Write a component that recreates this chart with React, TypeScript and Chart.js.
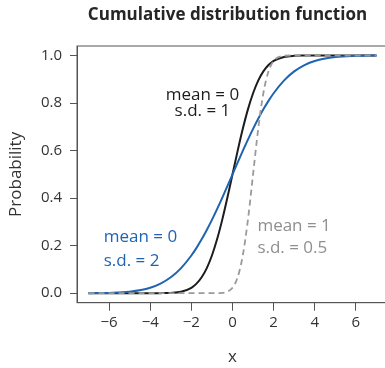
import { useEffect, useRef } from "react";
import { Chart, registerables } from "chart.js";

Chart.register(...registerables);

// x positions where the curves were read
const xs = [-7, -6, -5, -4, -3.5, -3, -2.5, -2, -1.75, -1.5, -1.25, -1, -0.75, -0.5, -0.25, 0, 0.25, 0.5, 0.75, 1, 1.25, 1.5, 1.75, 2, 2.5, 3, 3.5, 4, 5, 6, 7];

// mean = 0, s.d. = 1 (black)
const cdfMean0Sd1 = [0, 0, 0, 0, 0.0002, 0.0013, 0.0062, 0.0228, 0.0401, 0.0668, 0.1056, 0.1587, 0.2266, 0.3085, 0.4013, 0.5, 0.5987, 0.6915, 0.7734, 0.8413, 0.8944, 0.9332, 0.9599, 0.9772, 0.9938, 0.9987, 0.9998, 1, 1, 1, 1];

// mean = 0, s.d. = 2 (blue)
const cdfMean0Sd2 = [0.0002, 0.0013, 0.0062, 0.0228, 0.0401, 0.0668, 0.1056, 0.1587, 0.1908, 0.2266, 0.266, 0.3085, 0.3538, 0.4013, 0.4503, 0.5, 0.5497, 0.5987, 0.6462, 0.6915, 0.734, 0.7734, 0.8092, 0.8413, 0.8944, 0.9332, 0.9599, 0.9772, 0.9938, 0.9987, 0.9998];

// mean = 1, s.d. = 0.5 (grey dashed)
const cdfMean1Sd05 = [0, 0, 0, 0, 0, 0, 0, 0, 0, 0, 0, 0, 0.0002, 0.0013, 0.0062, 0.0228, 0.0668, 0.1587, 0.3085, 0.5, 0.6915, 0.8413, 0.9332, 0.9772, 0.9987, 1, 1, 1, 1, 1, 1];

const xTicks = [-6, -4, -2, 0, 2, 4, 6];
const xTickLabels = ["\u22126", "\u22124", "\u22122", "0", "2", "4", "6"];
const yTicks = [0, 0.2, 0.4, 0.6, 0.8, 1.0];
const yTickLabels = ["0.0", "0.2", "0.4", "0.6", "0.8", "1.0"];

const titleText = "Cumulative distribution function";
const xAxisTitle = "x";
const yAxisTitle = "Probability";

// curve annotations: one entry per text line, anchored in data units
const labelTexts = ["mean = 0", "s.d. = 1", "mean = 0", "s.d. = 2", "mean = 1", "s.d. = 0.5"];
const labelX = [-1.46, -1.46, -6.26, -6.26, 1.21, 1.21];
const labelY = [0.835, 0.764, 0.236, 0.133, 0.283, 0.188];
const labelAlign = ["center", "center", "left", "left", "left", "left"];
const labelColors = ["#1c1c1c", "#1c1c1c", "#1f63b3", "#1f63b3", "#8f8f8f", "#8f8f8f"];

const FONT = "'Open Sans', 'Noto Sans', sans-serif";
const AXIS = "#555555";

export default function App() {
  const ref = useRef<HTMLCanvasElement | null>(null);

  useEffect(() => {
    document.body.style.margin = "0";
    document.body.style.overflow = "hidden";
    const canvas = ref.current;
    if (!canvas) return;

    const toPts = (ys: number[]) => xs.map((x, i) => ({ x, y: ys[i] }));

    const decor = {
      id: "decor",
      afterDraw(chart: any) {
        const { ctx, chartArea } = chart;
        const xS = chart.scales.x;
        const yS = chart.scales.y;
        ctx.save();
        // box
        ctx.strokeStyle = AXIS;
        ctx.lineWidth = 1;
        ctx.strokeRect(chartArea.left, chartArea.top, chartArea.right - chartArea.left, chartArea.bottom - chartArea.top);
        // title
        ctx.fillStyle = "#262626";
        ctx.font = `bold 17px ${FONT}`;
        ctx.textAlign = "center";
        ctx.textBaseline = "middle";
        ctx.fillText(titleText, (chartArea.left + chartArea.right) / 2 - 5, 15);
        // annotations
        ctx.font = `17px ${FONT}`;
        labelTexts.forEach((t, i) => {
          ctx.fillStyle = labelColors[i];
          ctx.textAlign = labelAlign[i] as CanvasTextAlign;
          ctx.fillText(t, xS.getPixelForValue(labelX[i]), yS.getPixelForValue(labelY[i]));
        });
        ctx.restore();
      },
    };

    const chart = new Chart(canvas, {
      type: "line",
      data: {
        datasets: [
          {
            data: toPts(cdfMean0Sd1),
            borderColor: "#1c1c1c",
            borderWidth: 2,
            pointRadius: 0,
            cubicInterpolationMode: "monotone",
            order: 3,
          },
          {
            data: toPts(cdfMean0Sd2),
            borderColor: "#1f63b3",
            borderWidth: 2,
            pointRadius: 0,
            cubicInterpolationMode: "monotone",
            order: 2,
          },
          {
            data: toPts(cdfMean1Sd05),
            borderColor: "#9a9a9a",
            borderWidth: 1.8,
            borderDash: [6, 4],
            pointRadius: 0,
            cubicInterpolationMode: "monotone",
            order: 1,
          },
        ],
      },
      options: {
        animation: false,
        responsive: false,
        layout: { padding: { top: 46, right: 7, left: 0, bottom: 0 } },
        plugins: { legend: { display: false }, tooltip: { enabled: false }, title: { display: false } },
        scales: {
          x: {
            type: "linear",
            min: -7.56,
            max: 7.56,
            afterBuildTicks: (s: any) => {
              s.ticks = xTicks.map((v) => ({ value: v }));
            },
            afterFit: (s: any) => {
              s.height = 65.3;
            },
            ticks: {
              callback: (v: any) => xTickLabels[xTicks.indexOf(Number(v))] ?? "",
              color: "#333",
              font: { family: FONT, size: 15 },
              padding: 3,
              maxRotation: 0,
              autoSkip: false,
            },
            grid: { drawOnChartArea: false, drawTicks: true, tickLength: 8, color: AXIS, lineWidth: 1 },
            border: { display: true, color: AXIS, width: 1 },
            title: { display: true, text: xAxisTitle, color: "#333", font: { family: FONT, size: 17 }, padding: { top: 0, bottom: 1 } },
          },
          y: {
            type: "linear",
            min: -0.04,
            max: 1.04,
            afterBuildTicks: (s: any) => {
              s.ticks = yTicks.map((v) => ({ value: v }));
            },
            afterFit: (s: any) => {
              s.width = 77;
            },
            ticks: {
              callback: (v: any) => {
                const i = yTicks.findIndex((t) => Math.abs(t - Number(v)) < 1e-9);
                return i >= 0 ? yTickLabels[i] : "";
              },
              color: "#333",
              font: { family: FONT, size: 15 },
              padding: 8,
              autoSkip: false,
            },
            grid: { drawOnChartArea: false, drawTicks: true, tickLength: 7, color: AXIS, lineWidth: 1 },
            border: { display: true, color: AXIS, width: 1 },
            title: { display: true, text: yAxisTitle, color: "#333", font: { family: FONT, size: 17 }, padding: { top: 6, bottom: 0 } },
          },
        },
      },
      plugins: [decor],
    } as any);

    return () => chart.destroy();
  }, []);

  return (
    <div style={{ position: "relative", width: 395, height: 368 }}>
      <canvas ref={ref} width={395} height={368} style={{ display: "block", width: 395, height: 368 }} />
    </div>
  );
}
